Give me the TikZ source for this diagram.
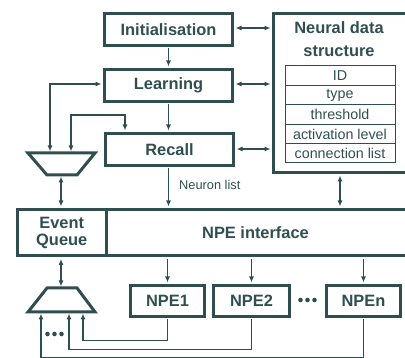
\documentclass[tikz,border=0pt]{standalone}
\usepackage{fontspec}
\setmainfont{Liberation Sans}
\usetikzlibrary{arrows.meta}
\definecolor{dk}{HTML}{2F4F4F}
\begin{document}
\begin{tikzpicture}[x=1pt,y=-1pt,
  box/.style={draw=dk, line width=3pt, inner sep=0pt, text=dk,
    font=\fontsize{16.4}{17}\selectfont\bfseries, align=center},
  lbl/.style={text=dk, font=\fontsize{16.4}{17}\selectfont\bfseries, align=center, inner sep=0pt},
  cell/.style={draw=dk, line width=1pt, inner sep=0pt, text=dk,
    minimum width=110, minimum height=19.4,
    font=\fontsize{14.3}{16}\selectfont},
  conn/.style={draw=dk, line width=1.1pt},
  both/.style={conn, {Latex[length=6pt,width=5pt]}-{Latex[length=6pt,width=5pt]}},
  one/.style={conn, -{Latex[length=6pt,width=5pt]}},
  mux/.style={draw=dk, line width=3pt, line join=miter}]
\useasboundingbox (0,0) rectangle (405,358);
% main boxes
\node[box, minimum width=128, minimum height=32] (I) at (168.5,29.5) {Initialisation};
\node[box, minimum width=128, minimum height=32] (L) at (168.5,85.5) {Learning};
\node[box, minimum width=128, minimum height=32] (R) at (169.5,149.5) {Recall};
% neural data structure (runs past the right edge)
\node[box, minimum width=145, minimum height=159] (N) at (346,93) {};
\node[lbl, font=\fontsize{16.4}{23}\selectfont\bfseries] (Nt) at (339,39.5) {Neural data\\structure};
\node[cell] (t1) at (340,75.7) {ID};
\node[cell] (t2) at (340,95.1) {type};
\node[cell] (t3) at (340,114.5) {threshold};
\node[cell] (t4) at (340,133.9) {activation level};
\node[cell] (t5) at (340,153.3) {connection list};
% interface
\node[box, minimum width=88.5, minimum height=46.5] (EQ) at (61.75,232.75) {Event\\Queue};
\node[box, minimum width=312, minimum height=46.5] (NPEI) at (262,232.75) {};
\node[lbl] (NPEIt) at (255.5,232.75) {NPE interface};
% NPEs
\node[box, minimum width=74, minimum height=31] (P1) at (167.5,301) {NPE1};
\node[box, minimum width=76, minimum height=31] (P2) at (251.5,301) {NPE2};
\node[box, minimum width=74, minimum height=31] (Pn) at (363.5,301) {NPEn};
% muxes
\draw[mux] (28,153) -- (95,153) -- (77,175) -- (47,175) -- cycle;
\draw[mux] (47,288) -- (77,288) -- (95,312) -- (28,312) -- cycle;
\coordinate (m1a) at (50,151.5);
\coordinate (m1b) at (71,151.5);
\coordinate (m1c) at (61,176.5);
\coordinate (r1) at (125,115);
\coordinate (m2c) at (61,286.5);
\coordinate (m2a) at (41,313.5);
\coordinate (m2b) at (69,313.5);
\coordinate (m2d) at (83,313.5);
% connectors
\draw[both, shorten <=1.5pt, shorten >=1.5pt] (I.east |- 0,28) -- (N.west |- 0,28);
\draw[both, shorten <=1.5pt, shorten >=1.5pt] (L.east |- 0,84) -- (N.west |- 0,84);
\draw[both, shorten <=1.5pt, shorten >=1.5pt] (R.east |- 0,149) -- (N.west |- 0,149);
\draw[one, shorten <=1.5pt, shorten >=1.5pt] (I.south -| 168.5,0) -- (L.north -| 168.5,0);
\draw[one, shorten <=1.5pt, shorten >=1.5pt] (L.south -| 168.5,0) -- (R.north -| 168.5,0);
\draw[both, shorten <=1.5pt] (L.west |- 0,84) -| (m1a);
\draw[both, shorten >=1.5pt] (m1b) |- (r1) -- (r1 |- R.north);
\draw[both, shorten >=1.5pt] (m1c) -- (m1c |- EQ.north);
\draw[one, shorten <=1.5pt, shorten >=1.5pt] (R.south -| 168.5,0) -- (NPEI.north -| 168.5,0);
\node[anchor=west, text=dk, font=\fontsize{12.8}{14}\selectfont, inner sep=0pt] (nl) at (179,185) {Neuron list};
\draw[both, shorten <=1.5pt, shorten >=1.5pt] (N.south -| 340,0) -- (NPEI.north -| 340,0);
\draw[both, shorten <=1.5pt] (EQ.south -| m2c) -- (m2c);
\draw[one, shorten <=1.5pt, shorten >=1.5pt] (NPEI.south -| P1.north) -- (P1.north);
\draw[one, shorten <=1.5pt, shorten >=1.5pt] (NPEI.south -| P2.north) -- (P2.north);
\draw[one, shorten <=1.5pt, shorten >=1.5pt] (NPEI.south -| Pn.north) -- (Pn.north);
\draw[one, shorten <=1.5pt] (P1.south) -- ++(0,22.5) -| (m2d);
\draw[one, shorten <=1.5pt] (P2.south) -- ++(0,31.5) -| (m2b);
\draw[one, shorten <=1.5pt] (Pn.south) -- ++(0,40) -| (m2a);
% dots
\fill[dk] (300.5,300) circle (2.3) (307.5,300) circle (2.3) (314.5,300) circle (2.3);
\fill[dk] (47.5,334) circle (2.3) (54.5,334) circle (2.3) (61.5,334) circle (2.3);
\end{tikzpicture}
\end{document}
